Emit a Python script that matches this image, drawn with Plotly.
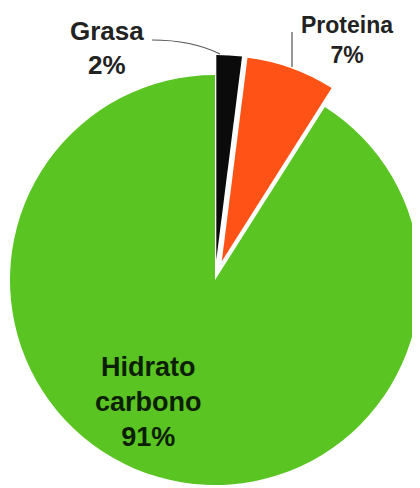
import plotly.graph_objects as go

# data
labels = ["Grasa", "Proteina", "Hidrato carbono"]
values = [2, 7, 91]
label_text = ["Grasa", "Proteina", "Hidrato<br>carbono"]
colors = ["#0b0b0b", "#ff5216", "#5ac423"]

W, H = 420, 488
CX, CY, R = 207, 272, 205          # pie centre / radius in px (figure coords)
# exploded slices: each slice is its own pie shifted outwards (px)
OFFSETS = [(1.3, -20.0), (6.8, -18.8), (0.0, 0.0)]
FONT = "Liberation Sans, Arial, Helvetica, sans-serif"

total = sum(values)
pct = [round(v / total * 100) for v in values]


def px_domain(cx, cy, r):
    return dict(x=[max(0, (cx - r) / W), min(1, (cx + r) / W)],
                y=[max(0, 1 - (cy + r) / H), min(1, 1 - (cy - r) / H)])


fig = go.Figure()
for i, (dx, dy) in enumerate(OFFSETS):
    cols = [c if j == i else "rgba(0,0,0,0)" for j, c in enumerate(colors)]
    fig.add_trace(go.Pie(
        labels=labels, values=values, sort=False, direction="clockwise",
        rotation=0, textinfo="none", hoverinfo="label+percent",
        marker=dict(colors=cols, line=dict(width=0)),
        domain=px_domain(CX + dx, CY + dy, R), showlegend=False,
    ))


def ax(x):
    return x / W


def ay(y):
    return 1 - y / H


# labels (centre px, font size)
label_pos = [(99, 40, 26), (339, 32, 23), (140, 394, 27)]
label_col = ["#222222", "#222222", "#0c1f04"]
for i, (x, y, size) in enumerate(label_pos):
    fig.add_annotation(
        x=ax(x), y=ay(y), xref="paper", yref="paper",
        text=f"{label_text[i]}<br>{pct[i]}%", showarrow=False,
        xanchor="center", yanchor="middle", align="center",
        font=dict(family=FONT, size=size, color=label_col[i], weight="bold"),
    )

# leader lines
fig.add_shape(type="path", xref="paper", yref="paper",
              path=f"M {ax(144)},{ay(32)} Q {ax(184)},{ay(32)} {ax(212)},{ay(46)}",
              line=dict(color="#555555", width=1.2))
fig.add_shape(type="line", xref="paper", yref="paper",
              x0=ax(284), x1=ax(284), y0=ay(24), y1=ay(59),
              line=dict(color="#555555", width=1.2))

fig.update_layout(
    width=W, height=H,
    margin=dict(l=0, r=0, t=0, b=0),
    paper_bgcolor="white", plot_bgcolor="white",
)

fig.write_html("out.html")
